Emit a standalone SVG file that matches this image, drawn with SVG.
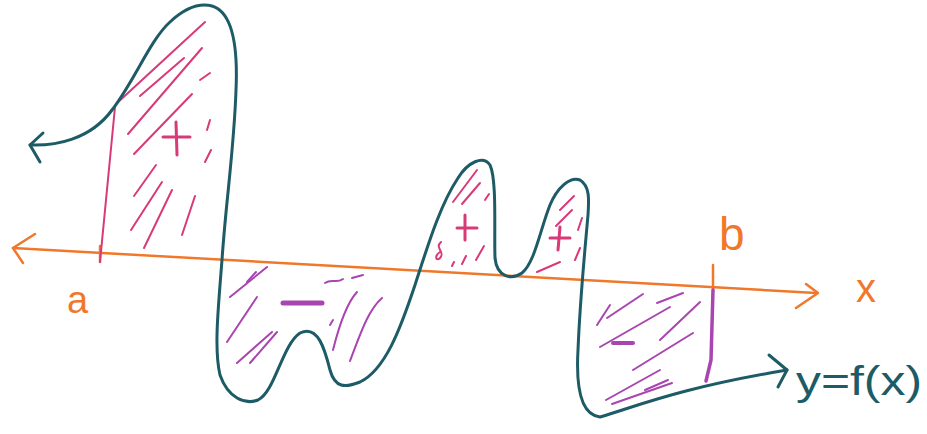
<svg xmlns="http://www.w3.org/2000/svg" width="927" height="434" viewBox="0 0 927 434">
<style>
.curve{fill:none;stroke:#1d5b66;stroke-width:3;stroke-linecap:round;stroke-linejoin:round}
.axis{fill:none;stroke:#f0782a;stroke-width:2.5;stroke-linecap:round;stroke-linejoin:round}
.pos{fill:none;stroke:#d83a78;stroke-width:2;stroke-linecap:round;stroke-linejoin:round}
.neg{fill:none;stroke:#a945b0;stroke-width:2;stroke-linecap:round;stroke-linejoin:round}
.lblO{fill:#f0782a;font-family:"Liberation Sans",Arial,sans-serif}
.lblT{fill:#1d5b66;font-family:"Liberation Sans",Arial,sans-serif}
</style>
<rect width="927" height="434" fill="#ffffff"/>
<g id="hatching-positive-1">
<path class="pos" d="M116,104 L205,22"/>
<path class="pos" d="M128,134 L202,48"/>
<path class="pos" d="M140,96 L184,58"/>
<path class="pos" d="M134,154 L192,94"/>
<path class="pos" d="M200,80 L210,73"/>
<path class="pos" d="M134,196 L156,165"/>
<path class="pos" d="M131,230 L162,182"/>
<path class="pos" d="M144,248 L172,190"/>
<path class="pos" d="M182,235 L195,196"/>
<path class="pos" d="M205,162 L211,150"/>
<path class="pos" d="M207,130 L210,120"/>
<path class="pos" d="M163,137 L190,137 M176,122 L177,155" style="stroke-width:3"/>
</g>
<g id="hatching-positive-2">
<path class="pos" d="M453,202 L477,170"/>
<path class="pos" d="M462,204 L480,183"/>
<path class="pos" d="M457,228 L477,228 M465,215 L465,240" style="stroke-width:3"/>
<path class="pos" d="M441,242 C434,248 446,252 440,258 C436,262 434,256 440,252"/>
<path class="pos" d="M452,266 L454,262 M462,264 L466,256 M476,260 L484,246"/>
<path class="pos" d="M485,200 L489,194"/>
</g>
<g id="hatching-positive-3">
<path class="pos" d="M560,210 L574,196"/>
<path class="pos" d="M556,226 L572,210"/>
<path class="pos" d="M550,238 L570,238 M560,227 L558,250" style="stroke-width:3"/>
<path class="pos" d="M537,272 L560,262"/>
<path class="pos" d="M578,230 L582,218 M575,260 L580,248"/>
</g>
<g id="hatching-negative-1">
<path class="neg" d="M230,297 L267,267"/>
<path class="neg" d="M247,282 L256,272"/>
<path class="neg" d="M227,342 L257,297"/>
<path class="neg" d="M237,363 L272,332"/>
<path class="neg" d="M250,363 L277,332"/>
<path class="neg" d="M283,303 L322,303" style="stroke-width:5"/>
<path class="neg" d="M325,283 C332,278 336,284 343,279"/>
<path class="neg" d="M352,278 L363,275"/>
<path class="neg" d="M333,350 C338,330 345,305 357,292"/>
<path class="neg" d="M350,361 C360,335 368,310 382,298"/>
<path class="neg" d="M330,325 L333,320"/>
</g>
<g id="hatching-negative-2">
<path class="neg" d="M607,318 L643,294"/>
<path class="neg" d="M597,325 L610,305"/>
<path class="neg" d="M657,303 L683,293"/>
<path class="neg" d="M600,347 L670,307"/>
<path class="neg" d="M660,340 L700,302"/>
<path class="neg" d="M613,343 L633,343" style="stroke-width:4"/>
<path class="neg" d="M633,370 L693,333"/>
<path class="neg" d="M606,400 L660,370"/>
<path class="neg" d="M612,404 L672,383"/>
<path class="neg" d="M645,390 L668,380"/>
</g>
<g id="connectors">
<path class="axis" d="M13,248 L816,293"/>
<path class="axis" d="M35,234 L13,248 L23,263"/>
<path class="axis" d="M796,308 L818,293 L806,284"/>
<path class="axis" d="M100,246 L100,262"/>
<path class="axis" d="M713,265 L713,290"/>
<path class="pos" d="M115,107 L100,262"/>
<path class="neg" d="M713,290 L711,360 L706,381" style="stroke-width:3.5"/>
<path class="curve" d="M30,145 C55,146 90,140 112,110 C135,80 150,40 170,22 C185,8 200,3 212,6 C232,12 238,45 236,90 C234,150 226,200 222,260 C218,310 214,350 220,375 C228,398 245,405 258,400 C275,392 282,345 300,333 C318,324 325,350 330,370 C335,388 345,388 360,382 C385,370 400,330 415,285 C428,245 440,205 458,178 C468,162 483,155 490,165 C497,180 494,230 495,258 C497,278 512,280 522,273 C535,262 540,230 550,205 C557,188 570,176 580,180 C590,186 589,200 588,215 C584,260 580,300 578,350 C576,385 580,415 600,417 C640,405 680,388 787,370"/>
<path class="curve" d="M43,133 L30,145 L40,162"/>
<path class="curve" d="M769,355 L787,370 L778,387"/>
</g>
<g id="labels">
<text class="lblO" x="67" y="313" font-size="38">a</text>
<text class="lblO" x="719" y="250" font-size="46">b</text>
<text class="lblO" x="856" y="302" font-size="40">x</text>
<text class="lblT" x="796" y="395" font-size="40" textLength="126" lengthAdjust="spacingAndGlyphs">y=f(x)</text>
</g>
</svg>
